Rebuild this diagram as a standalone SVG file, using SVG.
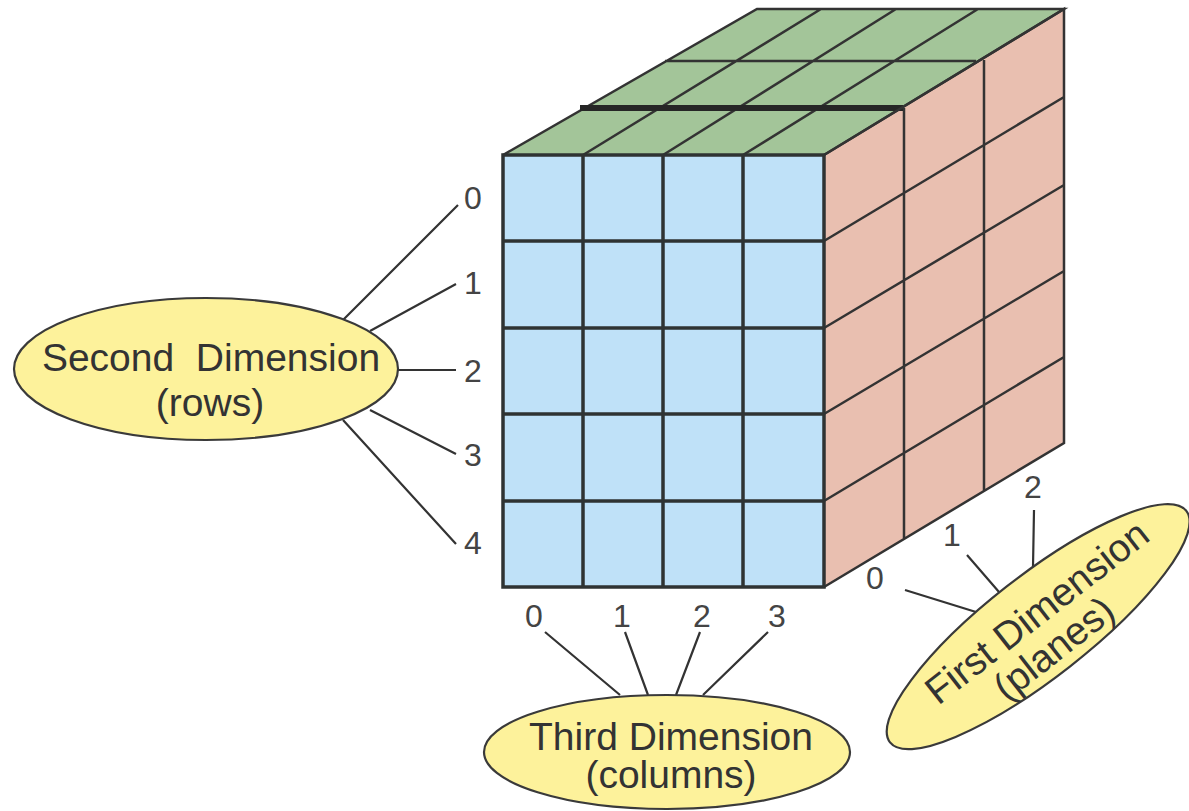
<svg xmlns="http://www.w3.org/2000/svg" width="1189" height="811" viewBox="0 0 1189 811">
<style>
.g{stroke:#2f3333;stroke-width:3.5;fill:none}
.h{stroke:#333;stroke-width:2.5;fill:none}
.c{stroke:#333;stroke-width:2.2;fill:none}
.t{font-family:"Liberation Sans",Arial,sans-serif;font-size:39px;fill:#333;text-anchor:middle}
.n{font-family:"Liberation Sans",Arial,sans-serif;font-size:32px;fill:#444;text-anchor:middle}
.e{fill:#fdf29b;stroke:#3a3a3a;stroke-width:2.2}
</style>
<rect width="1189" height="811" fill="#fff"/>
<g id="cube">
<polygon points="503,155 824,155 1064,9 757,9" fill="#a3c599"/>
<polygon points="824,155 1064,9 1064,443 824,587" fill="#e9bfb0"/>
<rect x="503" y="155" width="321" height="432" fill="#bfe1f8"/>
<path class="h" d="M503 155L757 9H1064L824 155M583 155L821 9M663 155L896 9M743 155L978 9M665 61H976"/>
<path d="M580 108H903" stroke="#262626" stroke-width="6" fill="none"/>
<path class="h" d="M824 155L1064 9V443L824 587M904 108V539M984 60V491M824 241L1064 97M824 328L1064 185M824 414L1064 271M824 501L1064 357"/>
<path class="g" d="M503 155H824V587H503ZM583 155V587M663 155V587M743 155V587M503 241H824M503 328H824M503 414H824M503 501H824"/>
</g>
<g id="connectors">
<path class="c" d="M343 320L458 205M370 331L456 284M398 370H456M370 410L456 454M343 420L456 544M620 695L545 632M648 695L625 632M676 695L700 632M703 695L768 632M976 612L905 590M999 592L967 555M1033 567L1034 510"/>
</g>
<g id="second-dimension"><ellipse class="e" cx="206" cy="369" rx="192" ry="71"/><text class="t" x="211" y="371" xml:space="preserve">Second  Dimension</text><text class="t" x="210" y="416">(rows)</text></g>
<g id="third-dimension"><ellipse class="e" cx="667" cy="752" rx="183" ry="57"/><text class="t" x="671" y="750">Third Dimension</text><text class="t" x="671" y="788">(columns)</text></g>
<g id="first-dimension" transform="rotate(-38 1040 629)"><ellipse class="e" cx="1040" cy="626" rx="188" ry="51"/><text class="t" x="1048" y="627">First Dimension</text><text class="t" x="1039" y="666">(planes)</text></g>
<g id="labels">
<text class="n" x="473" y="209">0</text><text class="n" x="473" y="294">1</text><text class="n" x="473" y="382">2</text><text class="n" x="473" y="466">3</text><text class="n" x="473" y="554">4</text>
<text class="n" x="534" y="627">0</text><text class="n" x="622" y="627">1</text><text class="n" x="702" y="627">2</text><text class="n" x="777" y="627">3</text>
<text class="n" x="875" y="589">0</text><text class="n" x="952" y="546">1</text><text class="n" x="1033" y="498">2</text>
</g>
</svg>
